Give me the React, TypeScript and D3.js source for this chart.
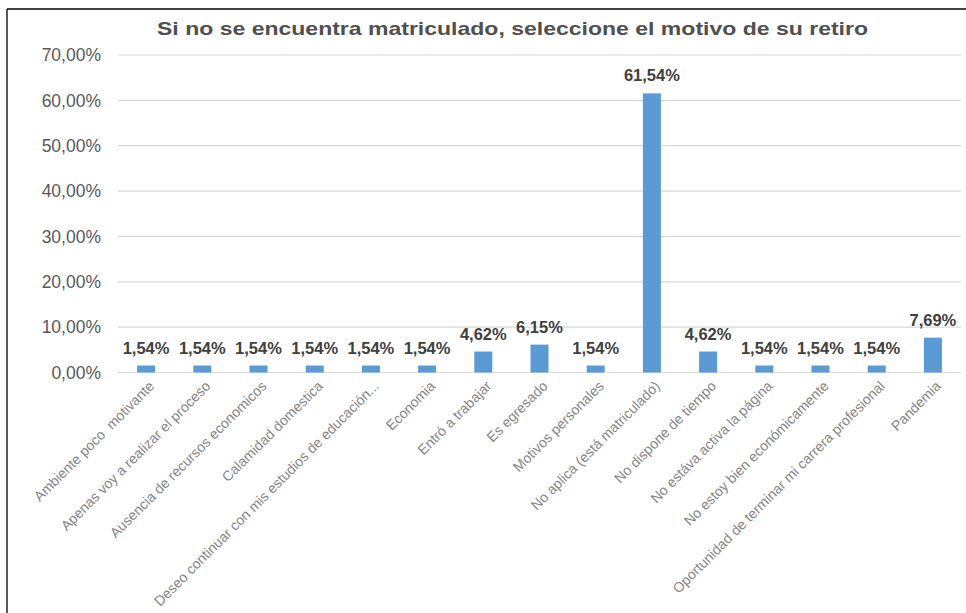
import React from "react";
import * as d3 from "d3";

const title = "Si no se encuentra matriculado, seleccione el motivo de su retiro";
const categories = [
  "Ambiente poco  motivante",
  "Apenas voy a realizar el proceso",
  "Ausencia de recursos economicos",
  "Calamidad domestica",
  "Deseo continuar con mis estudios de educación...",
  "Economia",
  "Entró a trabajar",
  "Es egresado",
  "Motivos personales",
  "No aplica (está matriculado)",
  "No dispone de tiempo",
  "No estáva activa la página",
  "No estoy bien económicamente",
  "Oportunidad de terminar mi carrera profesional",
  "Pandemia",
];
const values = [1.54, 1.54, 1.54, 1.54, 1.54, 1.54, 4.62, 6.15, 1.54, 61.54, 4.62, 1.54, 1.54, 1.54, 7.69];
const yTicks = [0, 10, 20, 30, 40, 50, 60, 70];

const W = 966;
const H = 613;
const FONT = "'Liberation Sans', Arial, sans-serif";

const fmt = (v: number) => v.toFixed(2).replace(".", ",") + "%";

export default function App() {
  const x = d3
    .scaleBand<string>()
    .domain(categories)
    .range([118, 961])
    .paddingInner(0.68)
    .paddingOuter(0.34);
  const y = d3.scaleLinear().domain([0, 70]).range([372.5, 55]);

  return (
    <svg
      width={W}
      height={H}
      style={{ position: "absolute", left: 0, top: 0, background: "#fff" }}
      fontFamily={FONT}
    >
      <rect x={0} y={0} width={W} height={H} fill="#fff" />
      {/* border */}
      <line x1={7} x2={W} y1={9} y2={9} stroke="#404040" strokeWidth={1.8} />
      <line x1={7} x2={7} y1={9} y2={H} stroke="#202020" strokeWidth={1.5} />

      <text
        x={157}
        y={35}
        fontSize={19}
        fontWeight="bold"
        fill="#505050"
        textLength={711}
        lengthAdjust="spacingAndGlyphs"
      >
        {title}
      </text>

      {/* gridlines */}
      {yTicks.map((t) => (
        <line
          key={t}
          x1={118}
          x2={961}
          y1={y(t)}
          y2={y(t)}
          stroke="#d9d9d9"
          strokeWidth={1.2}
        />
      ))}
      {yTicks.map((t) => (
        <text
          key={"l" + t}
          x={101}
          y={y(t)}
          dy="0.36em"
          textAnchor="end"
          fontSize={17.5}
          fill="#595959"
        >
          {fmt(t)}
        </text>
      ))}

      {/* bars */}
      {categories.map((c, i) => (
        <rect
          key={c}
          x={x(c)!}
          y={y(values[i])}
          width={x.bandwidth()}
          height={y(0) - y(values[i])}
          fill="#5b9bd5"
        />
      ))}
      {categories.map((c, i) => (
        <text
          key={"v" + c}
          x={x(c)! + x.bandwidth() / 2}
          y={y(values[i]) - 12}
          textAnchor="middle"
          fontSize={16.5}
          fontWeight="bold"
          fill="#404040"
        >
          {fmt(values[i])}
        </text>
      ))}

      {/* category labels */}
      {categories.map((c) => {
        const cx = x(c)! + x.bandwidth() / 2;
        return (
          <text
            key={"c" + c}
            transform={`translate(${cx + 2},${380}) rotate(-45)`}
            textAnchor="end"
            dy="0.7em"
            fontSize={14.1}
            fill="#858585"
            style={{ whiteSpace: "pre" }}
          >
            {c}
          </text>
        );
      })}
    </svg>
  );
}
